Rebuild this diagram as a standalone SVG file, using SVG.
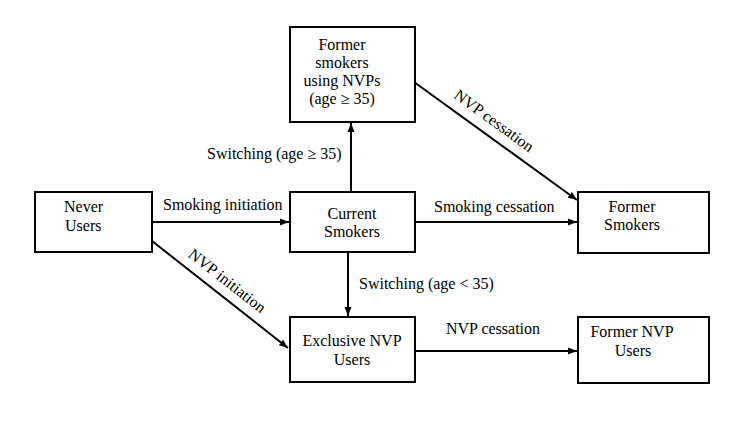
<svg xmlns="http://www.w3.org/2000/svg" width="742" height="427" viewBox="0 0 742 427">
<style>
.box{fill:#fff;stroke:#000;stroke-width:2}
.t{font-family:"Liberation Serif","Times New Roman",serif;font-size:16px;fill:#000}
.c{text-anchor:middle}
.ln{stroke:#000;stroke-width:2;fill:none;marker-end:url(#ah)}
</style>
<defs>
<marker id="ah" markerUnits="userSpaceOnUse" markerWidth="10" markerHeight="8" refX="9" refY="4" orient="auto">
<path d="M0,0.5 L9,4 L0,7.5 z" fill="#000"/>
</marker>
</defs>
<rect width="742" height="427" fill="#fff"/>
<g id="connectors">
<line class="ln" x1="152" y1="222" x2="289" y2="222"/>
<line class="ln" x1="351" y1="192" x2="351" y2="123"/>
<line class="ln" x1="348" y1="252" x2="348" y2="316"/>
<line class="ln" x1="415" y1="222" x2="577" y2="222"/>
<line class="ln" x1="414" y1="82" x2="577" y2="200"/>
<line class="ln" x1="152" y1="241" x2="288" y2="348"/>
<line class="ln" x1="415" y1="351" x2="577" y2="351"/>
<text class="t" x="163" y="210">Smoking initiation</text>
<text class="t" x="207" y="159">Switching (age ≥ 35)</text>
<text class="t" x="359" y="289">Switching (age &lt; 35)</text>
<text class="t" x="434" y="212">Smoking cessation</text>
<text class="t" x="446" y="334">NVP cessation</text>
<text class="t c" transform="translate(491,125) rotate(36)">NVP cessation</text>
<text class="t c" transform="translate(224,285) rotate(38)">NVP initiation</text>
</g>
<g id="never-users">
<rect class="box" x="35" y="192" width="117" height="60"/>
<text class="t" x="64" y="212">Never</text>
<text class="t" x="65" y="231">Users</text>
</g>
<g id="former-smokers-nvp">
<rect class="box" x="290" y="27" width="125" height="95"/>
<text class="t c" x="342" y="50">Former</text>
<text class="t c" x="342" y="68">smokers</text>
<text class="t c" x="342" y="86">using NVPs</text>
<text class="t c" x="342" y="104">(age ≥ 35)</text>
</g>
<g id="current-smokers">
<rect class="box" x="290" y="192" width="125" height="60"/>
<text class="t c" x="352" y="219">Current</text>
<text class="t c" x="352" y="237">Smokers</text>
</g>
<g id="exclusive-nvp">
<rect class="box" x="290" y="317" width="125" height="65"/>
<text class="t c" x="352" y="346">Exclusive NVP</text>
<text class="t c" x="352" y="365">Users</text>
</g>
<g id="former-smokers">
<rect class="box" x="578" y="192" width="131" height="61"/>
<text class="t c" x="632" y="212">Former</text>
<text class="t c" x="632" y="230">Smokers</text>
</g>
<g id="former-nvp-users">
<rect class="box" x="578" y="317" width="131" height="66"/>
<text class="t c" x="632" y="337">Former NVP</text>
<text class="t c" x="633" y="356">Users</text>
</g>
</svg>
